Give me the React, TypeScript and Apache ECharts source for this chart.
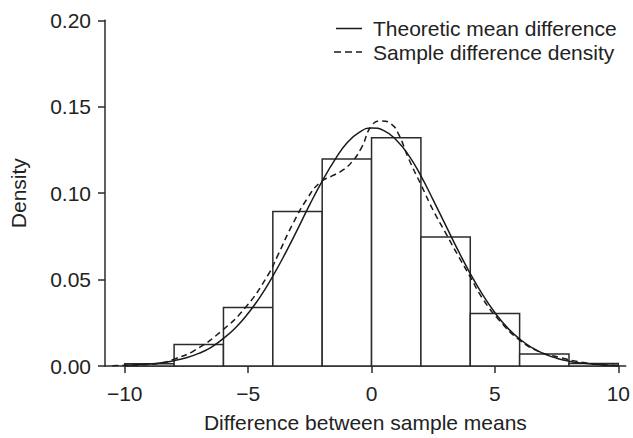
import React, { useEffect, useRef } from "react";
import * as echarts from "echarts";

// Histogram bins: [start, end, density]
const binStarts = [-10, -8, -6, -4, -2, 0, 2, 4, 6, 8];
const binEnds = [-8, -6, -4, -2, 0, 2, 4, 6, 8, 10];
const binDensity = [0.0013, 0.0125, 0.0338, 0.0894, 0.1198, 0.1321, 0.0747, 0.0304, 0.007, 0.0014];

// Theoretic mean difference curve
const theoX = [-10, -9.5, -9, -8.5, -8, -7.5, -7, -6.5, -6, -5.5, -5, -4.5, -4, -3.5, -3, -2.5, -2, -1.5, -1, -0.5, 0, 0.5, 1, 1.5, 2, 2.5, 3, 3.5, 4, 4.5, 5, 5.5, 6, 6.5, 7, 7.5, 8, 8.5, 9, 9.5, 10];
const theoY = [0.0004, 0.0007, 0.0011, 0.0019, 0.0031, 0.0048, 0.0073, 0.0108, 0.016, 0.0223, 0.0305, 0.0403, 0.052, 0.065, 0.079, 0.0935, 0.107, 0.119, 0.129, 0.1352, 0.1377, 0.1362, 0.1308, 0.122, 0.11, 0.096, 0.0815, 0.067, 0.0535, 0.0413, 0.0308, 0.0222, 0.0156, 0.0106, 0.007, 0.0045, 0.0028, 0.0017, 0.001, 0.0006, 0.0003];

// Sample difference density curve
const sampX = [-10.5, -9.5, -8.5, -8, -7.2, -6.1, -5.1, -4.2, -3.8, -3.2, -2.6, -2.1, -1.6, -1.2, -0.8, -0.4, 0, 0.4, 0.8, 1.1, 1.5, 2, 2.5, 3, 3.5, 4, 4.5, 5.2, 6, 6.8, 7.6, 8.5, 9.3, 10];
const sampY = [0.0002, 0.0006, 0.0018, 0.004, 0.0088, 0.02, 0.034, 0.0525, 0.064, 0.082, 0.097, 0.106, 0.11, 0.113, 0.118, 0.1265, 0.139, 0.1418, 0.14, 0.134, 0.12, 0.105, 0.09, 0.077, 0.064, 0.0515, 0.039, 0.026, 0.015, 0.0082, 0.005, 0.0022, 0.0008, 0.0003];

const xTicks = [-10, -5, 0, 5, 10];
const legendNames = ["Theoretic mean difference", "Sample difference density"];
const xTitle = "Difference between sample means";
const yTitle = "Density";

const FONT = "'Liberation Sans', Arial, Helvetica, sans-serif";
const TXT = "#222";
const LINE = "#2b2b2b";

export default function App() {
  const ref = useRef<HTMLDivElement>(null);

  useEffect(() => {
    if (!ref.current) return;
    const chart = echarts.init(ref.current, undefined, { renderer: "svg" });
    const hist = binStarts.map((s, i) => [s, binEnds[i], binDensity[i]]);
    const theo = theoX.map((x, i) => [x, theoY[i]]);
    const samp = sampX.map((x, i) => [x, sampY[i]]);
    const fmtMinus = (v: number) => String(v).replace("-", "\u2212");

    chart.setOption({
      animation: false,
      backgroundColor: "#fff",
      textStyle: { fontFamily: FONT },
      grid: { left: 103, right: 7, top: 20.3, bottom: 65.5 },
      xAxis: {
        type: "value",
        min: -10.8,
        max: 10.3,
        name: xTitle,
        nameLocation: "middle",
        nameGap: 46,
        nameTextStyle: { fontSize: 21, color: TXT, fontFamily: FONT },
        splitLine: { show: false },
        axisLine: { show: true, onZero: false, lineStyle: { color: LINE, width: 1.5 } },
        axisTick: { show: true, length: 7, customValues: xTicks, lineStyle: { color: LINE, width: 1.5 } },
        axisLabel: {
          customValues: xTicks,
          margin: 17,
          fontSize: 21,
          color: TXT,
          fontFamily: FONT,
          formatter: (v: number) => fmtMinus(v),
        },
      },
      yAxis: {
        type: "value",
        min: 0,
        max: 0.2,
        interval: 0.05,
        name: yTitle,
        nameLocation: "middle",
        nameGap: 76,
        nameTextStyle: { fontSize: 21, color: TXT, fontFamily: FONT },
        splitLine: { show: false },
        axisLine: { show: true, onZero: false, lineStyle: { color: LINE, width: 1.5 } },
        axisTick: { show: true, length: 7, lineStyle: { color: LINE, width: 1.5 } },
        axisLabel: {
          margin: 14,
          fontSize: 21,
          color: TXT,
          fontFamily: FONT,
          formatter: (v: number) => v.toFixed(2),
        },
      },
      series: [
        {
          type: "custom",
          name: "Histogram",
          data: hist,
          encode: { x: [0, 1], y: 2 },
          renderItem: (params: any, api: any) => {
            const tl = api.coord([api.value(0), api.value(2)]);
            const br = api.coord([api.value(1), 0]);
            return {
              type: "rect",
              shape: { x: tl[0], y: tl[1], width: br[0] - tl[0], height: br[1] - tl[1] },
              style: { fill: "#fff", stroke: LINE, lineWidth: 1.5 },
            };
          },
        },
        {
          type: "line",
          name: legendNames[0],
          data: theo,
          smooth: true,
          symbol: "none",
          lineStyle: { color: "#1a1a1a", width: 1.5 },
        },
        {
          type: "line",
          name: legendNames[1],
          data: samp,
          smooth: true,
          symbol: "none",
          lineStyle: { color: "#1a1a1a", width: 1.5, type: [6, 4] },
        },
      ],
      graphic: [
        {
          type: "line",
          shape: { x1: 336, y1: 28.5, x2: 362, y2: 28.5 },
          style: { stroke: "#1a1a1a", lineWidth: 1.5 },
        },
        {
          type: "text",
          x: 373,
          y: 28.5,
          style: { text: legendNames[0], font: `21px ${FONT}`, fill: TXT, verticalAlign: "middle", align: "left" },
        },
        {
          type: "line",
          shape: { x1: 334, y1: 52, x2: 362, y2: 52 },
          style: { stroke: "#1a1a1a", lineWidth: 1.5, lineDash: [7, 4] },
        },
        {
          type: "text",
          x: 373,
          y: 52,
          style: { text: legendNames[1], font: `21px ${FONT}`, fill: TXT, verticalAlign: "middle", align: "left" },
        },
      ],
    });
    return () => chart.dispose();
  }, []);

  return (
    <div
      ref={ref}
      style={{ position: "fixed", left: 0, top: 0, width: 633, height: 438, background: "#fff" }}
    />
  );
}
